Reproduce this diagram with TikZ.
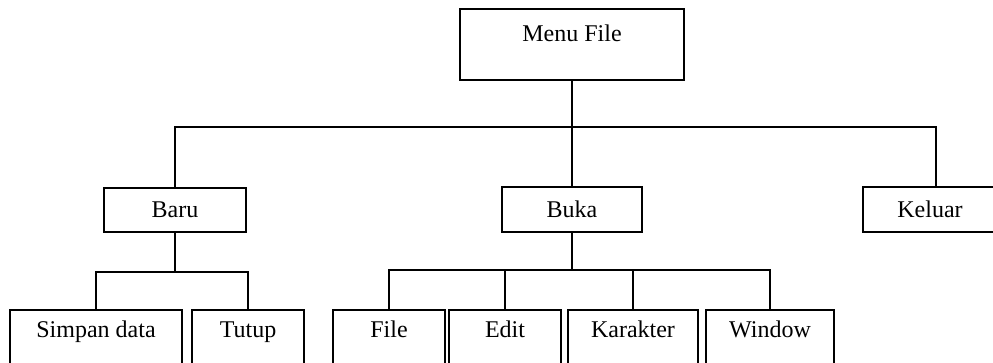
\documentclass[tikz,border=0pt]{standalone}
\usepackage{fontspec}
\setmainfont{Liberation Serif}
\begin{document}
\begin{tikzpicture}[x=1pt,y=-1pt,
  every node/.style={font=\fontsize{24}{27}\selectfont},
  menubox/.style={draw, line width=1.8pt, rectangle, inner sep=0pt},
  hightext/.style={text height=16pt, text depth=22pt},
  link/.style={line width=1.8pt}]
\useasboundingbox (0,0) rectangle (993,362);
\clip (0,0) rectangle (993,362);

% root
\node (menu) [menubox, hightext, minimum width=224pt, minimum height=71pt] at (572,44.5) {Menu File};

% second level
\node (baru)   [menubox, minimum width=142pt, minimum height=44pt] at (175,210) {Baru};
\node (buka)   [menubox, minimum width=140pt, minimum height=45pt] at (572,209.5) {Buka};
\node (keluar) [menubox, minimum width=134pt, minimum height=45pt] at (930,209.5) {Keluar};
\coordinate (keluartop) at ([xshift=6pt]keluar.north);

% third level
\node (simpan) [menubox, hightext, minimum width=172pt, minimum height=60pt] at (96,340) {Simpan data};
\node (tutup)  [menubox, hightext, minimum width=112pt, minimum height=60pt] at (248,340) {Tutup};
\node (file)   [menubox, hightext, minimum width=112pt, minimum height=60pt] at (389,340) {File};
\node (edit)   [menubox, hightext, minimum width=112pt, minimum height=60pt] at (505,340) {Edit};
\node (kar)    [menubox, hightext, minimum width=130pt, minimum height=60pt] at (633,340) {Karakter};
\node (win)    [menubox, hightext, minimum width=128pt, minimum height=60pt] at (770,340) {Window};

% bus lines
\coordinate (bus1) at (0,127);
\coordinate (bus2) at (0,272);
\coordinate (bus3) at (0,270);

% root to second level
\draw[link] (menu.south) -- (buka.north);
\draw[link] (baru.north) -- (baru.north |- bus1) -- (keluartop |- bus1) -- (keluartop);

% Baru branch
\draw[link] (baru.south) -- (baru.south |- bus2);
\draw[link] (simpan.north) -- (simpan.north |- bus2) -- (tutup.north |- bus2) -- (tutup.north);

% Buka branch
\draw[link] (buka.south) -- (buka.south |- bus3);
\draw[link] (file.north) -- (file.north |- bus3) -- (win.north |- bus3) -- (win.north);
\draw[link] (edit.north) -- (edit.north |- bus3);
\draw[link] (kar.north) -- (kar.north |- bus3);
\end{tikzpicture}
\end{document}
